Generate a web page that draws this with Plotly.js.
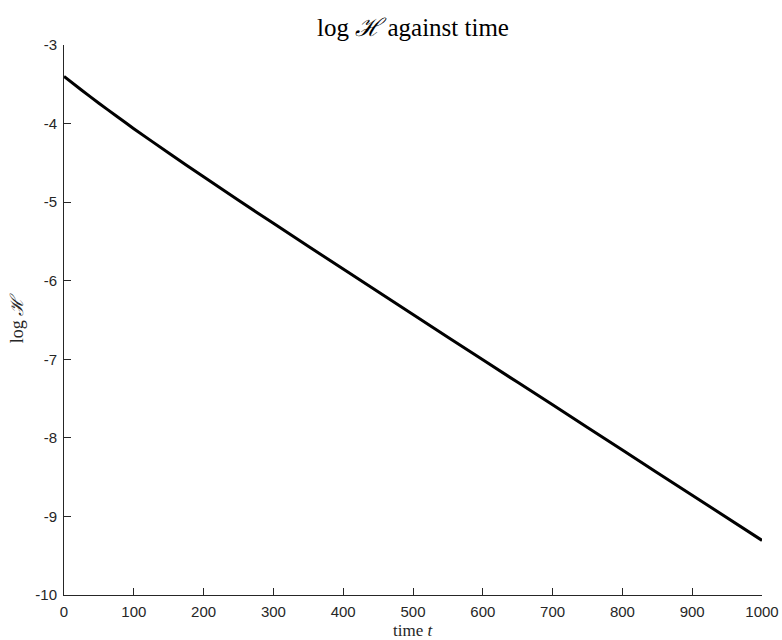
<!DOCTYPE html>
<html>
<head>
<meta charset="utf-8">
<script src="https://cdn.plot.ly/plotly-3.0.1.min.js"></script>
<style>html,body{margin:0;padding:0;background:#fff;}</style>
</head>
<body>
<div id="chart" style="width:782px;height:640px;"></div>
<script>
const timeValues = [0, 25, 50, 75, 100, 150, 200, 250, 300, 400, 500, 600, 700, 800, 900, 1000];
const logHValues = [-3.40, -3.573, -3.741, -3.904, -4.065, -4.375, -4.678, -4.975, -5.27, -5.852, -6.43, -7.007, -7.58, -8.156, -8.73, -9.305];
const xTickVals = [0, 100, 200, 300, 400, 500, 600, 700, 800, 900, 1000];
const xTickText = ["0", "100", "200", "300", "400", "500", "600", "700", "800", "900", "1000"];
const yTickVals = [-10, -9, -8, -7, -6, -5, -4, -3];
const yTickText = ["-10", "-9", "-8", "-7", "-6", "-5", "-4", "-3"];

const trace = {
  x: timeValues,
  y: logHValues,
  type: 'scatter',
  mode: 'lines',
  line: {color: '#000000', width: 3, shape: 'spline', smoothing: 0.6},
  hoverinfo: 'none'
};

const axisCommon = {
  showgrid: false,
  zeroline: false,
  showline: true,
  linecolor: '#262626',
  linewidth: 1,
  ticks: 'inside',
  ticklen: 7,
  tickwidth: 1,
  tickcolor: '#262626',
  ticklabelstandoff: 3,
  tickfont: {family: 'Liberation Sans, Arial, sans-serif', size: 15, color: '#262626'},
  mirror: false
};

const layout = {
  width: 782,
  height: 640,
  margin: {l: 64, r: 20, t: 45, b: 45},
  paper_bgcolor: '#ffffff',
  plot_bgcolor: '#ffffff',
  showlegend: false,
  title: {
    text: 'log <i>ℋ</i> against time',
    font: {family: 'Liberation Serif, DejaVu Serif, serif', size: 25, color: '#000000'},
    x: 0.5, xref: 'paper', xanchor: 'center',
    y: 0.958, yref: 'container', yanchor: 'middle'
  },
  xaxis: Object.assign({}, axisCommon, {
    range: [0, 1000],
    tickvals: xTickVals,
    ticktext: xTickText
  }),
  yaxis: Object.assign({}, axisCommon, {
    range: [-10, -3],
    tickvals: yTickVals,
    ticktext: yTickText,
    title: {text: 'log <i>ℋ</i>', font: {family: 'Liberation Serif, DejaVu Serif, serif', size: 18, color: '#262626'}, standoff: 7}
  }),
  annotations: [{
    text: 'time <i>t</i>',
    xref: 'paper', yref: 'paper',
    x: 0.5, y: -0.064,
    xanchor: 'center', yanchor: 'middle',
    showarrow: false,
    font: {family: 'Liberation Serif, DejaVu Serif, serif', size: 17, color: '#262626'}
  }]
};

Plotly.newPlot('chart', [trace], layout, {displayModeBar: false, staticPlot: true});
</script>
</body>
</html>
